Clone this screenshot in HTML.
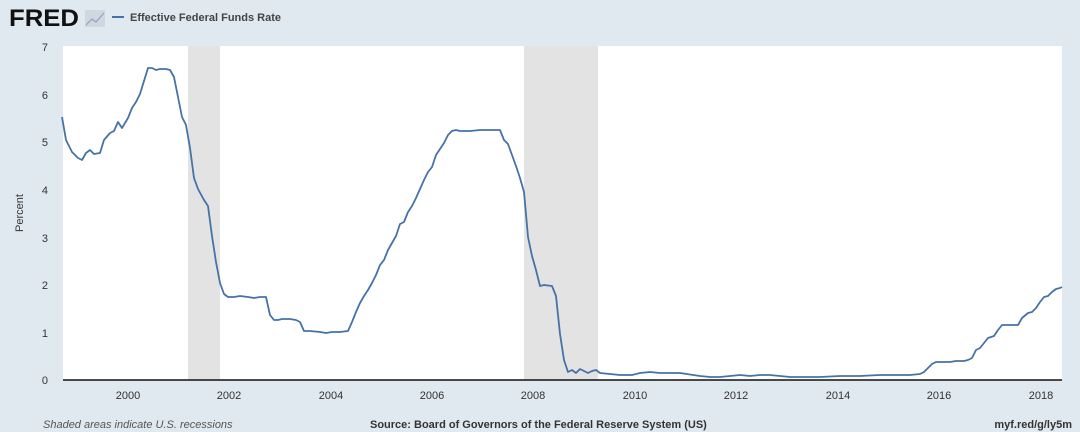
<!DOCTYPE html>
<html><head><style>
body{margin:0;width:1080px;height:435px;background:#fff;font-family:"Liberation Sans",sans-serif;overflow:hidden}
</style></head><body>
<svg width="1080" height="435" xmlns="http://www.w3.org/2000/svg" font-family="Liberation Sans, sans-serif">
<rect x="0" y="0" width="1080" height="432" fill="#e1e9f0"/>
<text x="9" y="26" font-size="24" font-weight="bold" fill="#111" textLength="70" lengthAdjust="spacingAndGlyphs">FRED</text>
<rect x="85" y="10" width="20" height="17" fill="#cfd8e0"/>
<polyline points="86,25 92,19 96,22 104,13" fill="none" stroke="#8aa4c0" stroke-width="1.2"/>
<line x1="112" y1="17" x2="124" y2="17" stroke="#4572a7" stroke-width="2"/>
<text x="130" y="21" font-size="11" font-weight="bold" fill="#444">Effective Federal Funds Rate</text>
<rect x="63" y="46" width="999" height="334" fill="#fff"/>
<rect x="188" y="46" width="32" height="334" fill="#e3e3e3"/>
<rect x="524" y="46" width="74" height="334" fill="#e3e3e3"/>
<g font-size="11" fill="#333" text-anchor="end">
<text x="48" y="51">7</text><text x="48" y="99">6</text><text x="48" y="146">5</text><text x="48" y="194">4</text><text x="48" y="242">3</text><text x="48" y="289">2</text><text x="48" y="337">1</text><text x="48" y="384">0</text>
</g>
<text x="23" y="213" font-size="11" fill="#333" text-anchor="middle" transform="rotate(-90 23 213)">Percent</text>
<g font-size="11" fill="#333" text-anchor="middle">
<text x="128" y="399">2000</text><text x="229" y="399">2002</text><text x="331" y="399">2004</text><text x="432" y="399">2006</text><text x="533" y="399">2008</text><text x="635" y="399">2010</text><text x="736" y="399">2012</text><text x="838" y="399">2014</text><text x="939" y="399">2016</text><text x="1041" y="399">2018</text>
</g>
<line x1="63" y1="380" x2="1062" y2="380" stroke="#111" stroke-width="1.5"/>
<polyline fill="none" stroke="#4572a7" stroke-width="1.8" stroke-linejoin="round" points="62,117 66,140 72,152 78,158 82,160 86,153 90,150 94,154 100,153 104,140 110,133 114,131 118,122 122,128 128,118 132,108 136,102 140,94 144,81 148,68 152,68 156,70 160,69 166,69 170,70 174,77 178,97 182,117 186,125 190,148 194,178 198,189 204,200 208,206 212,236 216,262 220,283 224,294 228,297 234,297 240,296 248,297 254,298 260,297 266,297 270,315 274,320 278,320 282,319 290,319 296,320 300,322 304,331 310,331 320,332 326,333 332,332 340,332 348,331 352,322 356,312 360,303 364,296 368,290 372,283 376,275 380,265 384,260 388,250 392,243 396,236 400,224 404,222 408,212 412,206 416,198 420,189 424,180 428,172 432,167 436,155 440,149 444,143 448,135 452,131 456,130 460,131 470,131 480,130 490,130 496,130 500,130 504,140 508,144 512,155 516,166 520,178 524,192 528,237 532,256 536,270 540,286 544,285 552,286 556,296 560,334 564,360 568,372 572,370 576,373 580,369 584,371 588,373 592,371 596,370 600,373 610,374 620,375 632,375 640,373 650,372 660,373 680,373 700,376 710,377 720,377 730,376 740,375 750,376 760,375 770,375 780,376 790,377 800,377 820,377 840,376 860,376 880,375 900,375 910,375 920,374 924,372 928,368 932,364 936,362 944,362 950,362 956,361 964,361 968,360 972,358 976,350 980,348 984,343 988,338 994,336 998,330 1002,325 1008,325 1012,325 1018,325 1022,318 1028,313 1032,312 1036,308 1040,302 1044,297 1048,296 1052,292 1056,289 1060,288 1062,287"/>
<text x="43" y="428" font-size="11" font-style="italic" fill="#555">Shaded areas indicate U.S. recessions</text>
<text x="370" y="428" font-size="11" font-weight="bold" fill="#333">Source: Board of Governors of the Federal Reserve System (US)</text>
<text x="1072" y="428" font-size="11" font-weight="bold" fill="#333" text-anchor="end">myf.red/g/ly5m</text>
</svg>
</body></html>
